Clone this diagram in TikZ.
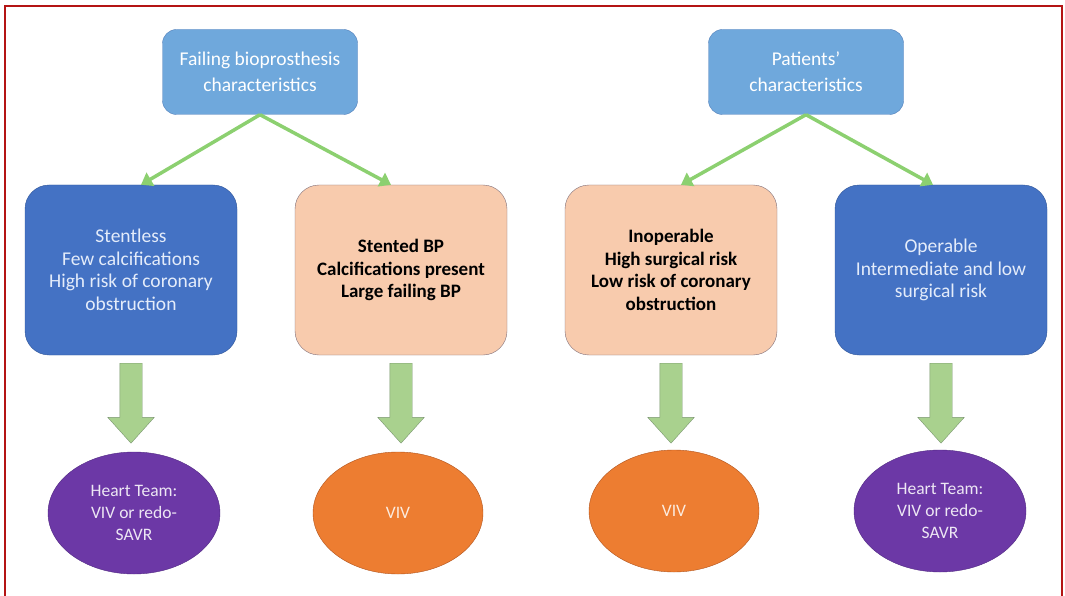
\documentclass[tikz,border=0pt]{standalone}
\usepackage{fontspec}
\setmainfont{Carlito}
\usetikzlibrary{shapes,arrows,arrows.meta}
\definecolor{topblue}{RGB}{111,168,220}
\definecolor{topedge}{RGB}{84,128,186}
\definecolor{darkblue}{RGB}{68,114,196}
\definecolor{darkedge}{RGB}{47,85,151}
\definecolor{darktext}{RGB}{228,236,250}
\definecolor{peach}{RGB}{248,203,173}
\definecolor{peachedge}{RGB}{128,112,122}
\definecolor{violet}{RGB}{108,56,166}
\definecolor{violetedge}{RGB}{80,40,130}
\definecolor{viv}{RGB}{237,125,49}
\definecolor{vivedge}{RGB}{176,84,30}
\definecolor{linegreen}{RGB}{140,208,112}
\definecolor{blockgreen}{RGB}{169,209,142}
\definecolor{blockedge}{RGB}{122,150,112}
\definecolor{framered}{RGB}{180,20,20}
\tikzstyle{topbox} = [rectangle,rounded corners=14pt,minimum width=195pt,minimum height=85pt,align=center,draw=topedge,fill=topblue,text=white,font=\fontsize{19.5}{26}\selectfont]
\tikzstyle{darkbox} = [rectangle,rounded corners=24pt,minimum width=212pt,minimum height=170pt,align=center,draw=darkedge,fill=darkblue,text=darktext,font=\fontsize{19.5}{22.5}\selectfont]
\tikzstyle{peachbox} = [rectangle,rounded corners=24pt,minimum width=212pt,minimum height=170pt,align=center,draw=peachedge,fill=peach,text=black,font=\bfseries\fontsize{19}{22.5}\selectfont]
\tikzstyle{teamoval} = [ellipse,minimum width=172pt,minimum height=122pt,align=center,draw=violetedge,fill=violet,text=white!88!violet,font=\fontsize{17.5}{22}\selectfont]
\tikzstyle{vivoval} = [ellipse,minimum width=170pt,minimum height=122pt,align=center,draw=vivedge,fill=viv,text=white!85!viv,font=\fontsize{17.5}{22}\selectfont]
\tikzstyle{bigarrow} = [single arrow,shape border rotate=270,inner sep=11pt,minimum height=80pt,single arrow head extend=12pt,single arrow tip angle=84,draw=blockedge,fill=blockgreen]
\tikzstyle{arrow} = [line width=3.5pt,draw=linegreen,-{Triangle[width=15pt,length=11pt]}]

\begin{document}
\begin{tikzpicture}[node distance=270pt]
\useasboundingbox (0,0) rectangle (1065pt,-596pt);
\draw [framered, line width=1.5pt] (5pt,-596pt) -- (5pt,-6pt) -- (1062pt,-6pt) -- (1062pt,-596pt);

\node (stentless) [darkbox] at (131pt,-270pt) {Stentless\\Few calcifications\\High risk of coronary\\obstruction};
\node (stented) [peachbox, right of=stentless] {Stented BP\\Calcifications present\\Large failing BP};
\node (inoperable) [peachbox, right of=stented] {Inoperable\\High surgical risk\\Low risk of coronary\\obstruction};
\node (operable) [darkbox, right of=inoperable] {Operable\\Intermediate and low\\surgical risk};

\node (failing) [topbox, above of=stentless, xshift=129pt, yshift=-72pt] {Failing bioprosthesis\\characteristics};
\node (patients) [topbox, above of=inoperable, xshift=135pt, yshift=-72pt] {Patients'\\characteristics};

\node (teamA) [teamoval, below of=stentless, xshift=3pt, yshift=27pt] {Heart Team:\\VIV or redo-\\SAVR};
\node (vivA) [vivoval, below of=stented, xshift=-3pt, yshift=27pt] {VIV};
\node (vivB) [vivoval, below of=inoperable, xshift=3pt, yshift=29pt] {VIV};
\node (teamB) [teamoval, below of=operable, xshift=-1pt, yshift=29pt] {Heart Team:\\VIV or redo-\\SAVR};

\node (toTeamA) [bigarrow, below of=stentless, yshift=177pt, anchor=tail] {};
\node (toVivA) [bigarrow, below of=stented, yshift=177pt, anchor=tail] {};
\node (toVivB) [bigarrow, below of=inoperable, yshift=177pt, anchor=tail] {};
\node (toTeamB) [bigarrow, below of=operable, yshift=177pt, anchor=tail] {};

\draw [arrow] (failing.south) -- ([xshift=10pt]stentless.north);
\draw [arrow] (failing.south) -- ([xshift=-10pt]stented.north);
\draw [arrow] (patients.south) -- ([xshift=10pt]inoperable.north);
\draw [arrow] (patients.south) -- ([xshift=-8pt]operable.north);

\end{tikzpicture}
\end{document}
